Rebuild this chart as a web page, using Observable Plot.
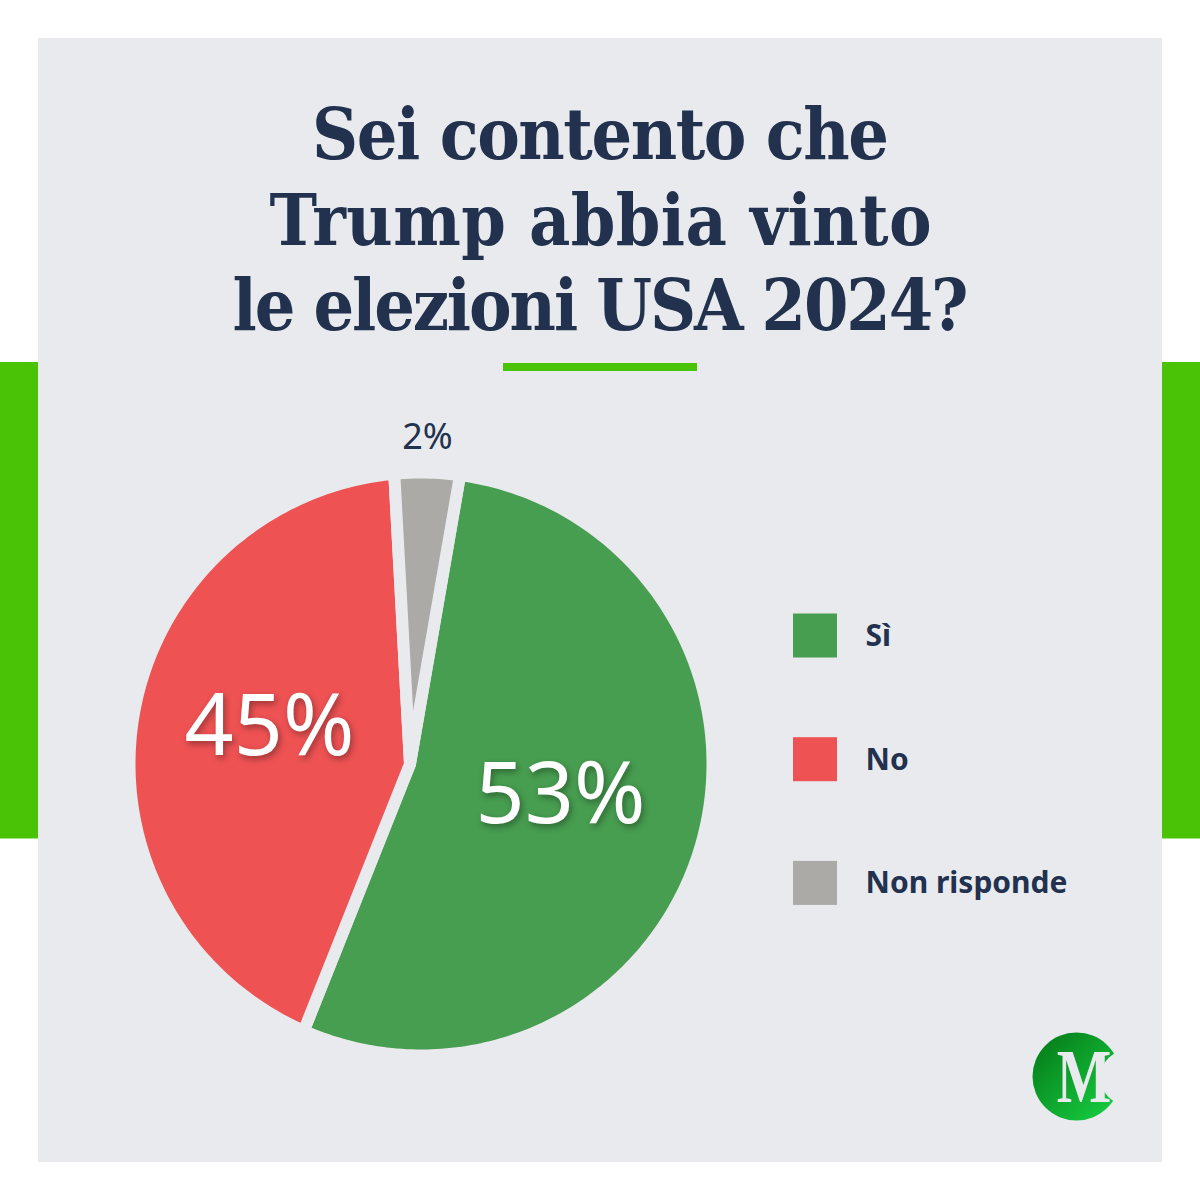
<!DOCTYPE html>
<html lang="it">
<head>
<meta charset="utf-8">
<script src="https://cdn.jsdelivr.net/npm/d3@7"></script>
<script src="https://cdn.jsdelivr.net/npm/@observablehq/plot@0.6"></script>
<style>html,body{margin:0;padding:0;background:#fff}svg{display:block}</style>
</head>
<body>
<div id="chart"></div>
<script>
const categories = ["Sì", "No", "Non risponde"];
const percentLabels = ["53%", "45%", "2%"];
// Drawn slice sizes (the drawn pie differs from the printed labels)
const drawnShares = [54.45, 41.95, 3.6];
const sliceColors = ["#479D50", "#EE5253", "#ABAAA7"];
const titleLines = ["Sei contento che", "Trump abbia vinto", "le elezioni USA 2024?"];

const panel = "#E8EAEE", ink = "#22324E", accent = "#4AC307";
const cx = 420.5, cy = 763.5, rim = 291.5, apexX = 409.5, startDeg = 7.7;

// Build each wedge in chart coordinates from the shares
const angles = d3.pie().sort(null).startAngle(startDeg * Math.PI / 180).endAngle((startDeg + 360) * Math.PI / 180)(drawnShares);
const wedgePoints = angles.flatMap((a, i) => {
  const steps = Math.ceil((a.endAngle - a.startAngle) / (Math.PI / 180));
  const pts = [{name: categories[i], x: apexX, y: cy}];
  for (let s = 0; s <= steps; ++s) {
    const t = a.startAngle + (a.endAngle - a.startAngle) * s / steps;
    pts.push({name: categories[i], x: cx + rim * Math.sin(t), y: cy - rim * Math.cos(t)});
  }
  pts.push({name: categories[i], x: apexX, y: cy});
  return pts;
});

const block = (x1, x2, y1, y2) => ({x1, x2, y1, y2});
const rects = (list, options) => Plot.rect(list, {x1: "x1", x2: "x2", y1: "y1", y2: "y2", ...options});

const legendRows = categories.map((name, i) => ({name, x1: 793, x2: 837, y1: 613.5 + i * 123.7, y2: 657.5 + i * 123.7, ty: 636 + i * 123.5}));

const gradientDefs = () => {
  const defs = d3.create("svg:defs");
  const g = defs.append("linearGradient").attr("id", "logoGrad").attr("x1", "0%").attr("y1", "0%").attr("x2", "100%").attr("y2", "100%");
  g.append("stop").attr("offset", "10%").attr("stop-color", "#067F1B");
  g.append("stop").attr("offset", "90%").attr("stop-color", "#17CB40");
  return defs.node();
};

const squeezeM = (x, y, k) => function (index, scales, values, dims, ctx, next) {
  const g = next(index, scales, values, dims, ctx);
  g.setAttribute("transform", `translate(${x},${y}) scale(${k},1) translate(${-x},${-y})`);
  return g;
};

// Fit each text of a mark to the width it has in the reference
const fitWidths = (widths) => function (index, scales, values, dims, ctx, next) {
  const g = next(index, scales, values, dims, ctx);
  g.querySelectorAll("text").forEach((t, i) => {
    t.setAttribute("textLength", widths[i]);
    t.setAttribute("lengthAdjust", "spacing");
  });
  return g;
};

const plot = Plot.plot({
  width: 1200, height: 1200,
  margin: 0,
  style: {background: "#fff"},
  x: {domain: [0, 1200], range: [0, 1200], axis: null},
  y: {domain: [0, 1200], range: [0, 1200], axis: null},
  color: {domain: categories, range: sliceColors},
  marks: [
    gradientDefs,
    rects([block(0, 38, 362, 838.5), block(1162, 1200, 362, 838.5)], {fill: accent}),
    rects([block(38, 1162, 38, 1162)], {fill: panel}),
    Plot.text(titleLines, {
      x: () => 600, y: (d, i) => 136 + i * 85.5, text: d => d,
      fontFamily: "'DejaVu Serif Condensed','DejaVu Serif',serif", fontWeight: 700, fontSize: 71, fill: ink, textAnchor: "middle",
      render: fitWidths([577, 662, 736])
    }),
    rects([block(503, 697, 363, 371)], {fill: accent}),
    Plot.line(wedgePoints, {
      x: "x", y: "y", z: "name", fill: "name", stroke: panel, strokeWidth: 12,
      strokeLinejoin: "miter", strokeMiterlimit: 10, curve: "linear"
    }),
    Plot.text([percentLabels[2]], {
      x: () => 427, y: () => 437, text: d => d,
      fontFamily: "'Noto Sans'", fontSize: 36, fill: ink, textAnchor: "middle"
    }),
    Plot.text([percentLabels[0], percentLabels[1]], {
      x: (d, i) => [560, 269][i], y: (d, i) => [795, 727][i], text: d => d,
      fontFamily: "'Noto Sans'", fontSize: 86, fill: "#fff", textAnchor: "middle",
      imageFilter: "drop-shadow(2px 3px 3px rgba(0,0,0,0.35))"
    }),
    rects(legendRows, {fill: "name"}),
    Plot.text(legendRows, {
      x: () => 865, y: "ty", text: "name",
      fontFamily: "'Noto Sans'", fontWeight: 700, fontSize: 30, fill: ink, textAnchor: "start"
    }),
    Plot.dot([0], {x: () => 1076, y: () => 1076, r: 44, fill: "url(#logoGrad)", stroke: "none"}),
    Plot.dot([0], {x: () => 1128, y: () => 1077, r: 28, fill: panel, stroke: "none"}),
    Plot.text(["M"], {
      x: () => 1084, y: () => 1078, text: d => d,
      fontFamily: "'Liberation Serif'", fontWeight: 700, fontSize: 76, fill: panel, textAnchor: "middle",
      render: squeezeM(1084, 1078, 0.76)
    })
  ]
});
document.getElementById("chart").append(plot);
</script>
</body>
</html>
